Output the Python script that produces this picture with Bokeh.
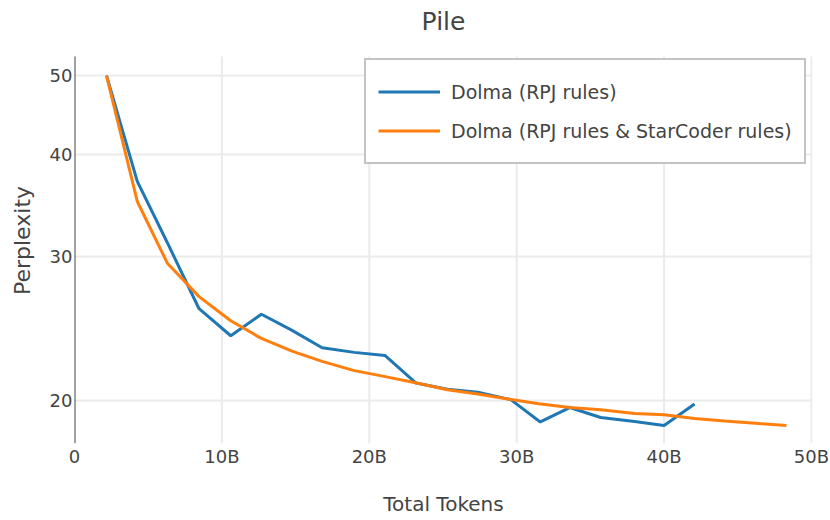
from bokeh.plotting import figure
from bokeh.models import FixedTicker, NumeralTickFormatter, Range1d, Legend, LegendItem
from bokeh.embed import file_html
from bokeh.resources import INLINE

# Data (tokens in billions)
x_rpj = [2.17, 4.26, 6.3, 8.45, 10.6, 12.68, 14.7, 16.8, 18.98, 21.06, 23.17, 25.3, 27.36,
         29.6, 31.6, 33.6, 35.7, 38.0, 40.0, 42.07]
y_rpj = [50.0, 37.1, 31.2, 25.9, 24.0, 25.5, 24.4, 23.2, 22.9, 22.7, 21.0, 20.64, 20.47,
         20.04, 18.82, 19.6, 19.06, 18.84, 18.63, 19.8]

x_sc = [2.17, 4.26, 6.3, 8.45, 10.6, 12.64, 14.8, 16.8, 18.98, 21.0, 23.2, 25.3, 27.36,
        29.4, 31.5, 33.6, 35.7, 38.0, 40.0, 42.07, 44.1, 46.2, 48.3]
y_sc = [50.0, 35.05, 29.45, 26.8, 25.04, 23.84, 22.96, 22.33, 21.75, 21.4, 21.0, 20.61, 20.36,
        20.08, 19.81, 19.6, 19.48, 19.28, 19.21, 19.0, 18.87, 18.75, 18.63]

x_ticks = [0, 10, 20, 30, 40, 50]
x_tick_labels = ["0", "10B", "20B", "30B", "40B", "50B"]
y_ticks = [20, 30, 40, 50]

series_names = ["Dolma (RPJ rules)", "Dolma (RPJ rules & StarCoder rules)"]
colors = ["#1f77b4", "#ff7f0e"]

# plot-area extents (data units)
X_MAX = 50.07
Y_MIN, Y_TOP = 17.71, 52.75   # visible plotting box
Y_RANGE_MAX = 55.66           # extra headroom used for the title area

FONT = "DejaVu Sans"
TXT = "#444444"

p = figure(width=830, height=520, y_axis_type="log", output_backend="svg",
           toolbar_location=None, title="Pile",
           x_range=Range1d(0, X_MAX), y_range=Range1d(Y_MIN, Y_RANGE_MAX),
           min_border_left=74, min_border_right=18, min_border_top=37, min_border_bottom=77)
p.outline_line_color = None
p.background_fill_color = "white"

p.title.align = "center"
p.title.text_font = FONT
p.title.text_font_size = "25px"
p.title.text_font_style = "normal"
p.title.text_color = TXT
p.title.standoff = 4

# grids
p.xgrid.visible = False
p.ygrid.ticker = FixedTicker(ticks=y_ticks)
p.ygrid.grid_line_color = "#ebebeb"
p.ygrid.grid_line_width = 2
p.segment(x0=x_ticks[1:], y0=[Y_MIN] * (len(x_ticks) - 1),
          x1=x_ticks[1:], y1=[Y_TOP] * (len(x_ticks) - 1),
          line_color="#ebebeb", line_width=2)

# axes
p.xaxis.ticker = FixedTicker(ticks=x_ticks)
p.xaxis.major_label_overrides = {t: l for t, l in zip(x_ticks, x_tick_labels)}
p.yaxis.ticker = FixedTicker(ticks=y_ticks)
p.yaxis.formatter = NumeralTickFormatter(format="0")
for ax in (p.xaxis[0], p.yaxis[0]):
    ax.major_tick_line_color = None
    ax.minor_tick_line_color = None
    ax.major_tick_out = 0
    ax.major_tick_in = 0
    ax.minor_tick_out = 0
    ax.minor_tick_in = 0
    ax.major_label_text_font = FONT
    ax.major_label_text_font_size = "18px"
    ax.major_label_text_color = TXT
    ax.axis_label_text_font = FONT
    ax.axis_label_text_font_style = "normal"
    ax.axis_label_text_color = TXT
    ax.axis_line_color = None
p.xaxis.axis_label = "Total Tokens"
p.yaxis.axis_label = "Perplexity"
p.xaxis.axis_label_text_font_size = "20px"
p.yaxis.axis_label_text_font_size = "22px"
p.xaxis.major_label_standoff = 2
p.xaxis.axis_label_standoff = 22
p.yaxis.major_label_standoff = 2
p.yaxis.axis_label_standoff = 12

# zero line (left)
p.segment(x0=[0], y0=[Y_MIN], x1=[0], y1=[Y_TOP], line_color="#444444", line_width=2)

r1 = p.line(x_rpj, y_rpj, line_color=colors[0], line_width=3)
r2 = p.line(x_sc, y_sc, line_color=colors[1], line_width=3)

legend = Legend(items=[LegendItem(label=series_names[0], renderers=[r1]),
                       LegendItem(label=series_names[1], renderers=[r2])],
                location=(290, 279))
legend.label_text_font = FONT
legend.label_text_font_size = "19px"
legend.label_text_color = TXT
legend.glyph_width = 62
legend.glyph_height = 39
legend.label_height = 39
legend.label_standoff = 11
legend.spacing = 0
legend.padding = 12
legend.margin = 0
legend.border_line_color = "#888888"
legend.border_line_width = 2
legend.background_fill_alpha = 1.0
p.add_layout(legend)

open("out.html", "w").write(file_html(p, INLINE))
